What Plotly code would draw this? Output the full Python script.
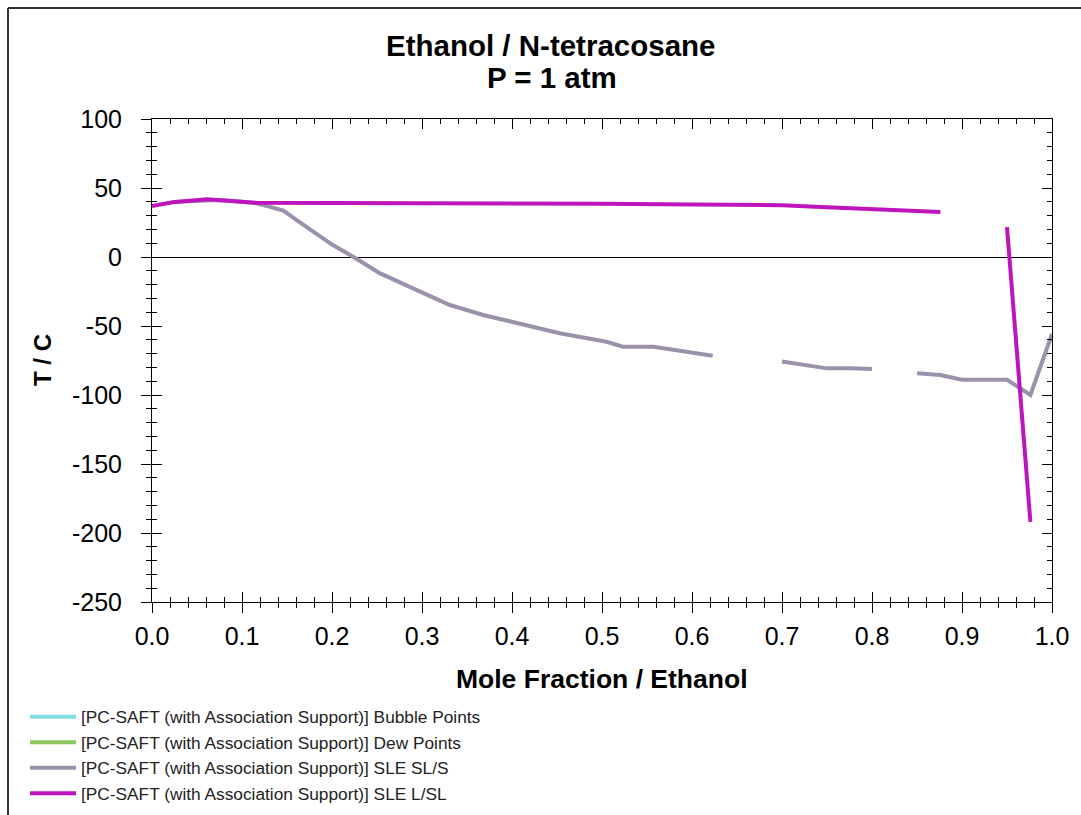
import plotly.graph_objects as go

# ---- data ----
bubble_x = []
bubble_t = []
dew_x = []
dew_t = []

sls_x = [0.023, 0.04, 0.061, 0.072, 0.09, 0.116, 0.13, 0.146, 0.16, 0.18, 0.2, 0.224,
         0.253, 0.29, 0.331, 0.368, 0.405, 0.453, 0.505, 0.523, 0.557, 0.59, 0.623,
         None, 0.70, 0.75, 0.776, 0.80,
         None, 0.85, 0.876, 0.9, 0.95, 0.976, 1.0]
sls_t = [39.8, 40.5, 41.3, 41.3, 40.5, 38.9, 36.5, 33.6, 27, 18, 9, 0,
         -11.7, -22.7, -34.8, -42, -48, -55.3, -61.4, -65, -65, -68.6, -71.5,
         None, -75.8, -80.7, -80.7, -81.2,
         None, -84.3, -85.5, -89, -89, -100, -55.8]

lsl_x = [0.0, 0.023, 0.061, 0.08, 0.116, 0.2, 0.3, 0.4, 0.5, 0.6, 0.7, 0.75, 0.77,
         0.8, 0.83, 0.85, 0.876,
         None, 0.95, 0.9527, 0.963, 0.976]
lsl_t = [37, 39.6, 41.8, 41, 39.3, 39.2, 39.1, 38.9, 38.5, 38, 37.5, 36, 35.5,
         35, 34.3, 33.5, 32.6,
         None, 21.7, 0, -88, -192]

x_tickvals = [0.0, 0.1, 0.2, 0.3, 0.4, 0.5, 0.6, 0.7, 0.8, 0.9, 1.0]
x_ticktext = ["0.0", "0.1", "0.2", "0.3", "0.4", "0.5", "0.6", "0.7", "0.8", "0.9", "1.0"]
y_tickvals = [100, 50, 0, -50, -100, -150, -200, -250]
y_ticktext = ["100", "50", "0", "-50", "-100", "-150", "-200", "-250"]

title_line1 = "Ethanol / N-tetracosane"
title_line2 = "P = 1 atm"
x_title = "Mole Fraction / Ethanol"
y_title = "T / C"
prefix = "[PC-SAFT (with Association Support)] "
names = [prefix + "Bubble Points", prefix + "Dew Points", prefix + "SLE SL/S", prefix + "SLE L/SL"]
colors = ["#80DEE2", "#8DC65C", "#9B91AA", "#BE14BE"]

x_range = [0.0, 1.0]
y_range = [-250, 100]

FONT = "Liberation Sans, Arial, sans-serif"
W, H = 1081, 815
L, R, T, B = 152, 29, 119, 213
PW, PH = W - L - R, H - T - B


def px_x(p):
    return (p - L) / PW


def px_y(p):
    return (H - B - p) / PH


fig = go.Figure()
series = [(bubble_x, bubble_t), (dew_x, dew_t), (sls_x, sls_t), (lsl_x, lsl_t)]
for (xs, ts), nm, c in zip(series, names, colors):
    fig.add_trace(go.Scatter(x=xs if xs else [None], y=ts if ts else [None], mode="lines",
                             name=nm, line=dict(color=c, width=4), connectgaps=False,
                             hoverinfo="skip"))

# dummy trace for overlay axes (inside ticks)
fig.add_trace(go.Scatter(x=[None], y=[None], xaxis="x2", yaxis="y2", showlegend=False,
                         hoverinfo="skip"))

tickfont = dict(family=FONT, size=25, color="black")
common_line = dict(showline=True, linecolor="black", linewidth=1, showgrid=False)

fig.update_layout(
    width=W, height=H,
    margin=dict(l=L, r=R, t=T, b=B, pad=0, autoexpand=False),
    paper_bgcolor="white", plot_bgcolor="white",
    xaxis=dict(range=x_range, tickmode="array", tickvals=x_tickvals, ticktext=x_ticktext,
               ticks="outside", ticklen=10,
               tickcolor="black", tickwidth=1, tickfont=tickfont, zeroline=False,
               minor=dict(ticks="outside", ticklen=5, dtick=0.02, tickcolor="black", showgrid=False),
               ticklabelstandoff=2, **common_line),
    yaxis=dict(range=y_range, tickmode="array", tickvals=y_tickvals, ticktext=y_ticktext,
               ticks="outside", ticklen=10, tickcolor="black",
               tickwidth=1, tickfont=tickfont, zeroline=True, zerolinecolor="black",
               zerolinewidth=1,
               minor=dict(ticks="outside", ticklen=5, dtick=10, tickcolor="black", showgrid=False),
               ticklabelstandoff=14, **common_line),
    xaxis2=dict(range=x_range, overlaying="x", anchor="y2", side="bottom", dtick=0.1,
                ticks="inside", ticklen=10, tickcolor="black", mirror="ticks",
                showticklabels=False, zeroline=False,
                minor=dict(ticks="inside", ticklen=5, dtick=0.02, tickcolor="black", showgrid=False),
                **common_line),
    yaxis2=dict(range=y_range, overlaying="y", anchor="x2", side="left", dtick=50,
                ticks="inside", ticklen=10, tickcolor="black", mirror="ticks",
                showticklabels=False, zeroline=False,
                minor=dict(ticks="inside", ticklen=5, dtick=10, tickcolor="black", showgrid=False),
                **common_line),
    showlegend=True,
    legend=dict(x=px_x(25), y=px_y(699), xanchor="left", yanchor="top",
                font=dict(family=FONT, size=17.3, color="#222222"),
                bgcolor="rgba(0,0,0,0)", tracegroupgap=0, itemwidth=46),
)

annotations = [
    dict(text="<b>" + title_line1 + "</b>", x=px_x(550), y=px_y(45), xref="paper", yref="paper",
         showarrow=False, font=dict(family=FONT, size=29.5, color="black"), xanchor="center", yanchor="middle"),
    dict(text="<b>" + title_line2 + "</b>", x=px_x(552), y=px_y(77), xref="paper", yref="paper",
         showarrow=False, font=dict(family=FONT, size=29.5, color="black"), xanchor="center", yanchor="middle"),
    dict(text="<b>" + x_title + "</b>", x=px_x(602), y=px_y(679), xref="paper", yref="paper",
         showarrow=False, font=dict(family=FONT, size=26.5, color="black"), xanchor="center", yanchor="middle"),
    dict(text="<b>" + y_title + "</b>", x=px_x(42), y=px_y(360), xref="paper", yref="paper",
         showarrow=False, textangle=-90, font=dict(family=FONT, size=24, color="black"),
         xanchor="center", yanchor="middle"),
]
fig.update_layout(annotations=annotations)

# outer frame lines (left and top edges of the image frame)
fig.add_shape(type="line", xref="paper", yref="paper", x0=px_x(8), x1=px_x(8), y0=px_y(8), y1=px_y(815),
              line=dict(color="#333333", width=2))
fig.add_shape(type="line", xref="paper", yref="paper", x0=px_x(8), x1=px_x(1081), y0=px_y(8), y1=px_y(8),
              line=dict(color="#333333", width=2))

fig.write_html("out.html")
